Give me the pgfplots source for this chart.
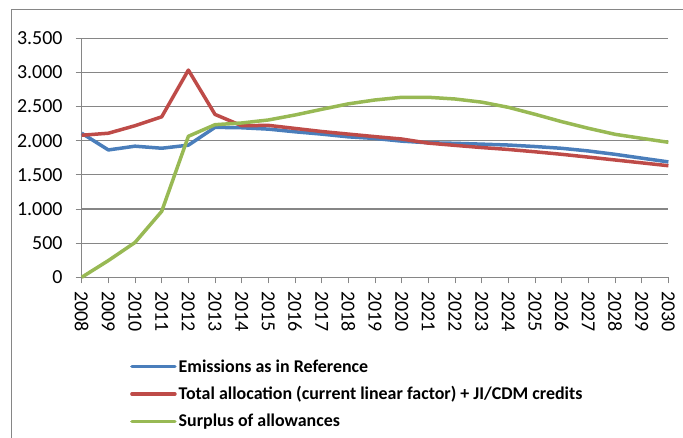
\documentclass[border=0pt]{standalone}
\usepackage{fontspec}
\setmainfont{Carlito}
\usepackage{pgfplots}
\pgfplotsset{compat=1.18}
\definecolor{exblue}{HTML}{4A7EBB}
\definecolor{exred}{HTML}{BE4B48}
\definecolor{exgreen}{HTML}{98B954}
\definecolor{gridgray}{RGB}{134,134,134}
\begin{document}
\begin{tikzpicture}
\begin{axis}[
  at={(81.7bp,160.7bp)}, anchor=south west,
  scale only axis, width=586.7bp, height=239bp,
  xmin=2008, xmax=2030, ymin=0, ymax=3500,
  xtick={2008,2009,...,2030},
  ytick={0,500,...,3500},
  axis x line*=bottom, axis y line*=left,
  axis line style={gridgray, line width=1bp},
  every tick/.style={gridgray, line width=1bp},
  tick align=outside, major tick length=6bp,
  ymajorgrids, major grid style={gridgray, line width=1.2bp},
  /pgf/number format/assume math mode=true,
  yticklabel style={/pgf/number format/1000 sep={.}, font=\fontsize{20}{24}\selectfont, anchor=east, inner sep=0pt, xshift=-13bp},
  xticklabel style={/pgf/number format/1000 sep={}, font=\fontsize{20}{24}\selectfont, rotate=-90, anchor=west, inner sep=0pt, xshift=8bp},
  legend style={at={(axis description cs:0.0823,-0.335)}, anchor=north west, draw=none, fill=none,
    font=\bfseries\fontsize{18}{21}\selectfont, row sep=9bp, inner sep=0pt,
    /tikz/every even column/.append style={column sep=0bp}},
  legend cell align=left,
  legend image code/.code={\draw[#1, line width=3.5bp, line cap=round] (0bp,0bp) -- (43bp,0bp);},
  every axis plot/.append style={line width=3.5bp, line join=round},
  clip=false,
]
\addplot[exblue] coordinates {
(2008,2110)(2009,1865)(2010,1920)(2011,1890)(2012,1935)(2013,2196)(2014,2190)(2015,2170)(2016,2131)(2017,2097)(2018,2057)(2019,2033)(2020,1994)(2021,1970)(2022,1962)(2023,1950)(2024,1937)(2025,1915)(2026,1889)(2027,1850)(2028,1801)(2029,1745)(2030,1690)};
\addlegendentry{Emissions as in Reference}
\addplot[exred] coordinates {
(2008,2080)(2009,2110)(2010,2220)(2011,2350)(2012,3035)(2013,2385)(2014,2220)(2015,2225)(2016,2180)(2017,2135)(2018,2097)(2019,2060)(2020,2025)(2021,1965)(2022,1932)(2023,1900)(2024,1872)(2025,1838)(2026,1801)(2027,1760)(2028,1718)(2029,1676)(2030,1634)};
\addlegendentry{Total allocation (current linear factor) + JI/CDM credits}
\addplot[exgreen] coordinates {
(2008,0)(2009,245)(2010,510)(2011,966)(2012,2065)(2013,2235)(2014,2260)(2015,2304)(2016,2377)(2017,2460)(2018,2540)(2019,2597)(2020,2636)(2021,2636)(2022,2611)(2023,2565)(2024,2489)(2025,2387)(2026,2279)(2027,2182)(2028,2094)(2029,2035)(2030,1977)};
\addlegendentry{Surplus of allowances}
\end{axis}
\draw[gridgray, line width=1bp] (11bp,0bp) -- (11bp,428bp) -- (683bp,428bp);
\pgfresetboundingbox
\path[use as bounding box] (0bp,0bp) rectangle (683bp,438bp);
\end{tikzpicture}
\end{document}
